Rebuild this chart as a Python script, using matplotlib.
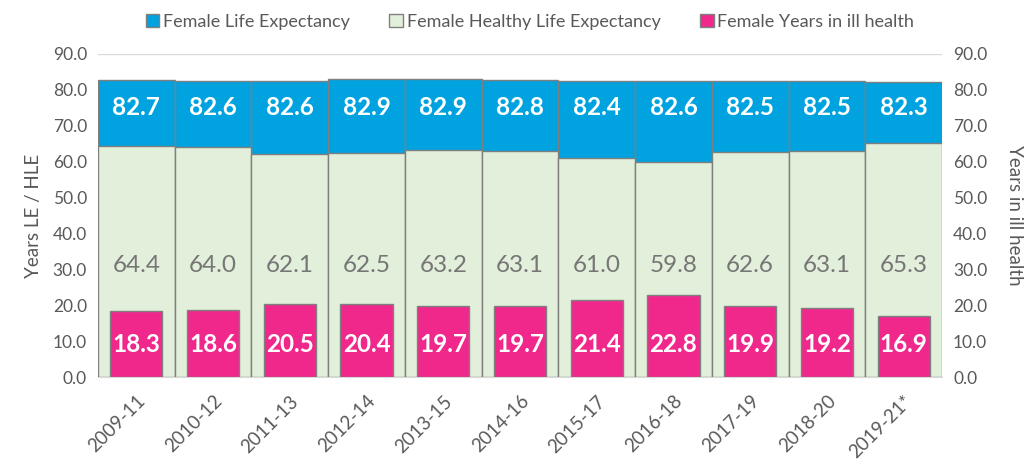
import numpy as np
import matplotlib.pyplot as plt

plt.rcParams['font.family'] = ['Lato', 'DejaVu Sans']

periods = ['2009-11', '2010-12', '2011-13', '2012-14', '2013-15', '2014-16',
           '2015-17', '2016-18', '2017-19', '2018-20', '2019-21*']
le = [82.7, 82.6, 82.6, 82.9, 82.9, 82.8, 82.4, 82.6, 82.5, 82.5, 82.3]
hle = [64.4, 64.0, 62.1, 62.5, 63.2, 63.1, 61.0, 59.8, 62.6, 63.1, 65.3]
ill = [18.3, 18.6, 20.5, 20.4, 19.7, 19.7, 21.4, 22.8, 19.9, 19.2, 16.9]

blue = '#00A3E0'
green = '#E2EFDA'
pink = '#F0288C'
edge = '#7F7F7F'
grey = '#595959'

fig = plt.figure(figsize=(10.25, 4.65), dpi=100)
ax = fig.add_axes([0.0956, 0.189, 0.8234, 0.695])
ax2 = ax.twinx()

x = np.arange(len(periods))
ax.axhline(90, color='#D9D9D9', lw=1, zorder=0)
b1 = ax.bar(x, le, width=1.0, color=blue, edgecolor=edge, lw=1, label='Female Life Expectancy', zorder=2)
b2 = ax.bar(x, hle, width=1.0, color=green, edgecolor=edge, lw=1, label='Female Healthy Life Expectancy', zorder=3)
b3 = ax2.bar(x, ill, width=0.68, color=pink, edgecolor=edge, lw=1, label='Female Years in ill health', zorder=3)

for i in x:
    ax.text(i, 75, f'{le[i]:.1f}', ha='center', va='center', color='white',
            fontsize=17.5, fontweight='bold', zorder=5)
    ax.text(i, 31, f'{hle[i]:.1f}', ha='center', va='center', color='#767676',
            fontsize=17.5, zorder=5)
    ax2.text(i, 9, f'{ill[i]:.1f}', ha='center', va='center', color='white',
             fontsize=17.5, fontweight='bold', zorder=5)

for a in (ax, ax2):
    a.set_ylim(0, 90)
    a.set_yticks(np.arange(0, 91, 10))
    a.set_yticklabels([f'{v:.1f}' for v in np.arange(0, 91, 10)])
    a.tick_params(axis='y', length=0, labelsize=12.5, labelcolor=grey, pad=8)
    for s in a.spines.values():
        s.set_visible(False)
ax.spines['bottom'].set_visible(True)
ax.spines['bottom'].set_color('#D9D9D9')

ax.set_xlim(-0.5, len(periods) - 0.5)
ax.set_xticks(x)
ax.set_xticklabels(periods, rotation=45, ha='right', rotation_mode='anchor')
ax.tick_params(axis='x', length=0, labelsize=13.5, labelcolor=grey, pad=11)

ax.set_ylabel('Years LE / HLE', fontsize=13.5, color=grey, labelpad=8)
ax2.set_ylabel('Years in ill health', fontsize=13.5, color=grey, rotation=270, labelpad=26)

fig.legend([b1, b2, b3], [b1.get_label(), b2.get_label(), b3.get_label()],
           loc='center', bbox_to_anchor=(0.517, 0.953), ncol=3, frameon=False,
           fontsize=13, handlelength=0.75, handleheight=0.75, handletextpad=0.2,
           columnspacing=2.2, labelcolor=grey)

fig.savefig('out.png', dpi=100)
